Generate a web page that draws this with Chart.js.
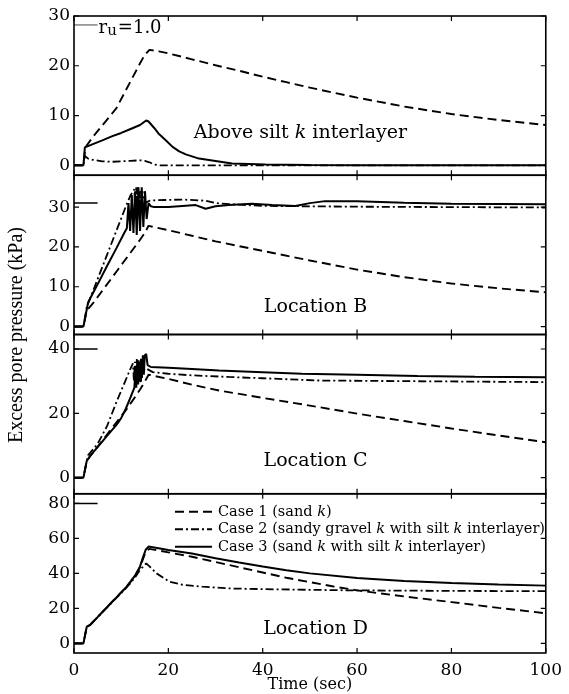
<!DOCTYPE html>
<html>
<head>
<meta charset="utf-8">
<title>Excess pore pressure</title>
<script src="https://cdn.jsdelivr.net/npm/chart.js@4.4.1/dist/chart.umd.min.js"></script>
<style>
  html, body { margin: 0; padding: 0; background: #fff; }
</style>
</head>
<body>
<canvas id="pore" width="569" height="694"></canvas>
<script>
// shared time axis
const timeTicks = [0, 20, 40, 60, 80, 100];

const caseLabels = [
    'Case 1 (sand k)',
    'Case 2 (sandy gravel k with silt k interlayer)',
    'Case 3 (sand k with silt k interlayer)'
];
const panelLabels = ['Above silt k interlayer', 'Location B', 'Location C', 'Location D'];
const ruParts = ['r', 'u', '=1.0'];

// r_u = 1.0 reference level in each panel (kPa), drawn over t = 0..5 s
const ruLevels = [28.2, 31, 40, 80];
const ruSpan = [0, 5];

// Above silt k interlayer
const ticksA = [0, 10, 20, 30];
const tA1 = [0, 2.0, 2.4, 4, 6, 9, 12, 14, 15, 16, 18, 20, 25, 30, 35, 40, 45, 50, 60, 70, 80, 90, 100];
const pA1 = [0, 0, 3.6, 5.7, 8.0, 11.5, 16.9, 20.5, 22.2, 23.2, 22.9, 22.5, 21.3, 20.1, 19.0, 17.8, 16.7, 15.6, 13.6, 11.8, 10.3, 9.1, 8.1];
const tA2 = [0, 2.0, 2.3, 3, 4, 6, 8, 10, 12, 14, 15, 16, 17, 18, 30, 50, 100];
const pA2 = [0, 0, 1.9, 1.35, 1.1, 0.8, 0.7, 0.8, 0.9, 1.0, 0.9, 0.6, 0.15, 0, 0, 0, 0];
const tA3 = [0, 2.0, 2.3, 4, 6, 8, 10, 12, 14, 15.3, 15.8, 17, 17.9, 19.5, 20.9, 22.3, 23.7, 26.5, 30, 33.5, 40.6, 50, 60, 100];
const pA3 = [0, 0, 3.6, 4.25, 5.0, 5.8, 6.5, 7.3, 8.1, 9.0, 8.8, 7.5, 6.4, 5.0, 3.7, 2.8, 2.2, 1.35, 0.87, 0.34, 0.14, 0.05, 0, 0];

// Location B
const ticksB = [0, 10, 20, 30];
const tB1 = [0, 2.0, 2.7, 4, 6, 8, 10, 12, 14, 15, 15.8, 20, 25, 30, 35, 40, 50, 60, 70, 80, 90, 100];
const pB1 = [0, 0, 4.0, 5.8, 9.0, 12.2, 15.4, 18.6, 21.8, 23.5, 25.3, 24.2, 22.8, 21.4, 20.2, 19.0, 16.6, 14.3, 12.4, 10.8, 9.6, 8.6];
const tB2 = [0, 2.0, 2.7, 5, 7, 9, 11, 12, 12.8, 13.0, 13.2, 13.4, 13.6, 13.8, 14.0, 14.2, 14.5, 15, 16, 17, 20, 23, 28, 30, 35, 40, 50, 60, 80, 100];
const pB2 = [0, 0, 4.85, 11.9, 18.0, 24.1, 30.2, 33, 34.5, 28, 35, 29, 35, 28, 34, 30, 34, 31, 31.6, 31.7, 31.8, 31.9, 31.6, 31.0, 30.6, 30.3, 30.2, 30.1, 30.0, 29.9];
const tB3 = [0, 2.0, 3.0, 5, 7, 9, 10.7, 11.2, 11.55, 11.9, 12.25, 12.6, 12.95, 13.3, 13.65, 14.0, 14.35, 14.7, 15.05, 15.4, 15.8, 16.3, 17, 20, 23, 25.8, 27.9, 30, 32.8, 37.7, 42, 46.9, 50, 53.2, 60, 65, 70, 80, 90, 100];
const pB3 = [0, 0, 6.1, 10.6, 15.2, 19.7, 23.6, 24.7, 31, 24, 33, 23.5, 34, 23, 35, 24, 35, 25, 34, 27, 31, 30.2, 30, 30, 30.3, 30.5, 29.6, 30.2, 30.5, 30.85, 30.5, 30.25, 31, 31.5, 31.5, 31.3, 31.1, 30.85, 30.8, 30.7];

// Location C
const ticksC = [0, 20, 40];
const tC1 = [0, 2.0, 2.7, 3.5, 5, 7, 9, 11, 13, 14, 15, 15.8, 20, 25, 30.7, 40, 50, 60, 70, 80, 90, 100];
const pC1 = [0, 0, 5.2, 6.8, 9.6, 13.4, 17.2, 21, 25.2, 27.4, 29.8, 32, 30.7, 28.9, 27.1, 24.8, 22.4, 19.9, 17.6, 15.3, 13.1, 11.0];
const tC2 = [0, 2.0, 2.7, 3.0, 5, 7, 9, 10, 11, 12, 12.5, 12.7, 12.9, 13.1, 13.3, 13.5, 13.7, 13.9, 14.2, 14.6, 15.2, 16.7, 20, 25, 32.8, 40, 51.8, 70, 100];
const pC2 = [0, 0, 5.2, 7.0, 10.5, 16, 23.5, 27, 30.5, 34, 35.5, 30, 36, 31, 37, 31, 36.5, 32, 36, 33, 34, 32.8, 32.3, 31.8, 31.3, 30.9, 30.2, 30.0, 29.7];
const tC3 = [0, 2.0, 2.7, 3.4, 5, 7, 9, 10, 11, 12, 12.8, 13.0, 13.2, 13.4, 13.6, 13.8, 14.0, 14.2, 14.4, 14.6, 14.8, 15.0, 15.3, 15.6, 16.3, 20, 25, 30.7, 40, 48.3, 60, 72.8, 85, 100];
const pC3 = [0, 0, 5.2, 6.75, 9.5, 13.0, 16.4, 18.5, 21.5, 25, 28, 33, 28, 35, 29, 36, 30, 37, 31, 38, 32, 38, 38.5, 35, 34.4, 34.2, 33.8, 33.3, 32.8, 32.3, 32.0, 31.6, 31.4, 31.2];

// Location D
const ticksD = [0, 20, 40, 60, 80];
const tD1 = [0, 2.0, 2.7, 3.4, 5, 7, 9, 11, 12, 13, 14, 14.6, 15.2, 16, 20, 25, 30, 35, 40, 45, 50, 55, 60, 70, 80, 90, 100];
const pD1 = [0, 0, 9.5, 10.5, 15, 20.7, 26.3, 31.9, 35.3, 39, 43.5, 48, 52.5, 54, 52, 49.5, 46.5, 43.5, 40.5, 37.5, 35, 32.5, 30.3, 26.8, 23.6, 20.3, 17.2];
const tD2 = [0, 2.0, 2.7, 3.4, 5, 7, 9, 11, 12, 13, 14, 15.3, 16, 17.5, 20.2, 23, 27.2, 32.8, 40, 50, 58.8, 80, 100];
const pD2 = [0, 0, 9.5, 10.5, 15, 20.5, 26, 31.5, 34.5, 38, 42, 45.7, 44, 40, 35.3, 33.5, 32.4, 31.4, 31, 30.6, 30.3, 30, 29.8];
const tD3 = [0, 2.0, 2.7, 3.4, 5, 7, 9, 11, 12, 13, 14, 14.6, 15.2, 15.8, 20, 25, 30, 35, 40, 45, 50, 60, 70, 80, 90, 100];
const pD3 = [0, 0, 9.5, 10.5, 15, 20.7, 26.3, 31.9, 35.3, 39, 44, 49, 53.5, 55.3, 53.3, 51.3, 48.6, 46.2, 43.9, 41.8, 40, 37.4, 35.6, 34.5, 33.6, 33];

const SERIF = "'DejaVu Serif', 'Liberation Serif', serif";
const caseDash = [[9, 5], [8, 3, 2, 3], []];
const caseWidth = [1.9, 1.8, 2.0];

// panel setup, top to bottom; `at` = label anchor in (sec, kPa)
const panels = [
    { id: 'yA', min: -2, max: 30, ticks: ticksA, runs: [[tA1, pA1], [tA2, pA2], [tA3, pA3]], at: [48, 6.4] },
    { id: 'yB', min: -2, max: 38, ticks: ticksB, runs: [[tB1, pB1], [tB2, pB2], [tB3, pB3]], at: [51.2, 4.9] },
    { id: 'yC', min: -5, max: 44.5, ticks: ticksC, runs: [[tC1, pC1], [tC2, pC2], [tC3, pC3]], at: [51.2, 5.2] },
    { id: 'yD', min: -5.5, max: 85.5, ticks: ticksD, runs: [[tD1, pD1], [tD2, pD2], [tD3, pD3]], at: [51.2, 8.4] }
];

const pts = (ts, ps) => ts.map((t, i) => ({ x: t, y: ps[i] }));

const datasets = [];
panels.forEach((p, n) => {
    p.runs.forEach(([ts, ps], k) => {
        datasets.push({
            label: caseLabels[k],
            data: pts(ts, ps),
            yAxisID: p.id,
            borderColor: '#000',
            borderWidth: caseWidth[k],
            borderDash: caseDash[k],
            borderJoinStyle: 'bevel',
            pointRadius: 0,
            tension: 0,
            fill: false
        });
    });
    datasets.push({
        label: 'ru',
        data: ruSpan.map(t => ({ x: t, y: ruLevels[n] })),
        yAxisID: p.id,
        borderColor: n === 0 ? '#444' : '#000',
        borderWidth: n === 0 ? 1 : 1.5,
        pointRadius: 0,
        fill: false
    });
});

const scales = {
    x: {
        type: 'linear',
        position: 'bottom',
        min: 0,
        max: 100,
        afterBuildTicks: s => { s.ticks = timeTicks.map(v => ({ value: v })); },
        afterFit: s => { s.height = 41; },
        grid: { display: false, drawTicks: false },
        border: { display: false },
        ticks: { color: '#000', font: { family: SERIF, size: 17 }, padding: 7, maxRotation: 0, autoSkip: false },
        title: { display: true, text: 'Time (sec)', color: '#000', font: { family: SERIF, size: 16 }, padding: 0 }
    }
};
panels.forEach((p, n) => {
    scales[p.id] = {
        type: 'linear',
        position: 'left',
        stack: 'panels',
        stackWeight: 1,
        weight: panels.length - n,
        min: p.min,
        max: p.max,
        afterBuildTicks: s => { s.ticks = p.ticks.map(v => ({ value: v })); },
        afterFit: s => { s.width = 44; },
        grid: { display: false, drawTicks: false },
        border: { display: false },
        ticks: { color: '#000', font: { family: SERIF, size: 17 }, padding: 4, autoSkip: false }
    };
});

// text with the word "k" set in italics
function richText(ctx, text, x, y, size) {
    let cx = x;
    text.split(/(\bk\b)/).forEach(part => {
        ctx.font = (part === 'k' ? 'italic ' : '') + size + 'px ' + SERIF;
        ctx.fillText(part, cx, y);
        cx += ctx.measureText(part).width;
    });
    return cx - x;
}
function richWidth(ctx, text, size) {
    let w = 0;
    text.split(/(\bk\b)/).forEach(part => {
        ctx.font = (part === 'k' ? 'italic ' : '') + size + 'px ' + SERIF;
        w += ctx.measureText(part).width;
    });
    return w;
}

const panelFrames = {
    id: 'panelFrames',
    afterDatasetsDraw(chart) {
        const { ctx, chartArea: { left, right }, scales: sc } = chart;
        const xs = sc.x;
        ctx.save();
        ctx.strokeStyle = '#000';
        panels.forEach(p => {
            const s = sc[p.id];
            ctx.lineWidth = 1.6;
            ctx.strokeRect(left, s.top, right - left, s.bottom - s.top);
            ctx.lineWidth = 1.2;
            ctx.beginPath();
            s.ticks.forEach(t => {
                const y = s.getPixelForValue(t.value);
                ctx.moveTo(left, y); ctx.lineTo(left + 5, y);
                ctx.moveTo(right, y); ctx.lineTo(right - 5, y);
            });
            xs.ticks.forEach(t => {
                const x = xs.getPixelForValue(t.value);
                ctx.moveTo(x, s.top); ctx.lineTo(x, s.top + 5);
                ctx.moveTo(x, s.bottom); ctx.lineTo(x, s.bottom - 5);
            });
            ctx.stroke();
        });
        ctx.restore();
    }
};

const panelText = {
    id: 'panelText',
    afterDraw(chart) {
        const { ctx, chartArea, scales: sc } = chart;
        const xs = sc.x;
        ctx.save();
        ctx.fillStyle = '#000';
        ctx.textBaseline = 'middle';

        // panel captions
        panels.forEach((p, n) => {
            const cx = xs.getPixelForValue(p.at[0]);
            const cy = sc[p.id].getPixelForValue(p.at[1]);
            const w = richWidth(ctx, panelLabels[n], 19);
            richText(ctx, panelLabels[n], cx - w / 2, cy, 19);
        });

        // r_u = 1.0 tag
        const ry = sc.yA.getPixelForValue(ruLevels[0]) + 3;
        let rx = xs.getPixelForValue(ruSpan[1]) + 1;
        ctx.font = '18px ' + SERIF;
        ctx.fillText(ruParts[0], rx, ry);
        rx += ctx.measureText(ruParts[0]).width;
        ctx.font = '15px ' + SERIF;
        ctx.fillText(ruParts[1], rx, ry + 3);
        rx += ctx.measureText(ruParts[1]).width + 1;
        ctx.font = '18px ' + SERIF;
        ctx.fillText(ruParts[2], rx, ry);

        // legend in the bottom panel
        const lx = chartArea.left + 101;
        const ly = sc.yD.top + 18;
        caseLabels.forEach((label, k) => {
            const y = ly + k * 17.5;
            ctx.save();
            ctx.lineWidth = caseWidth[k];
            ctx.setLineDash(caseDash[k]);
            ctx.beginPath();
            ctx.moveTo(lx, y);
            ctx.lineTo(lx + 37, y);
            ctx.stroke();
            ctx.restore();
            richText(ctx, label, lx + 43, y, 14.5);
        });

        // shared y title
        ctx.translate(17, 335);
        ctx.rotate(-Math.PI / 2);
        ctx.textAlign = 'center';
        ctx.font = "20px 'Liberation Serif', serif";
        ctx.fillText('Excess pore pressure (kPa)', 0, 0);
        ctx.restore();
    }
};

new Chart(document.getElementById('pore'), {
    type: 'line',
    data: { datasets },
    options: {
        responsive: false,
        animation: false,
        layout: { padding: { left: 30, right: 20, top: 16, bottom: 0 } },
        plugins: { legend: { display: false }, tooltip: { enabled: false } },
        scales
    },
    plugins: [panelFrames, panelText]
});
</script>
</body>
</html>
